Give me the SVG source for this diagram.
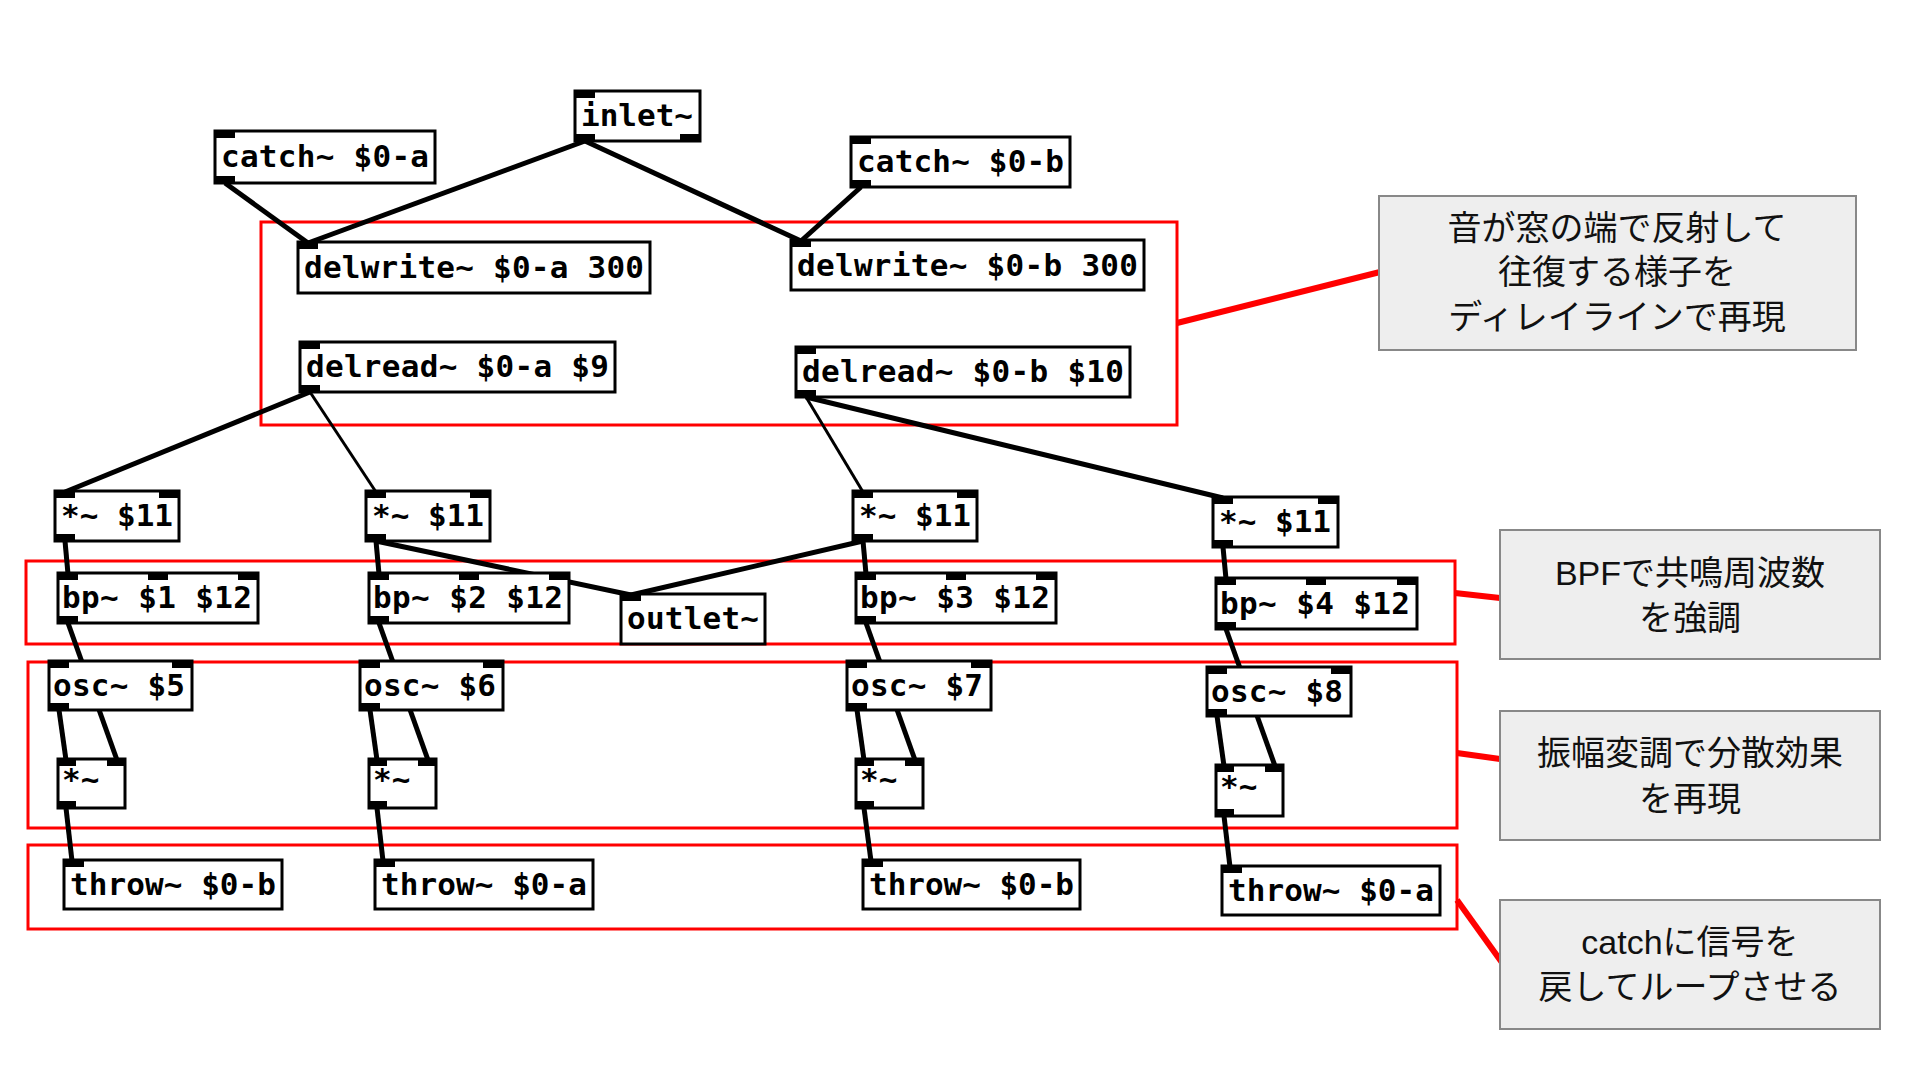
<svg xmlns="http://www.w3.org/2000/svg" width="1920" height="1080" viewBox="0 0 1920 1080">
<style>
.o{fill:#fff;stroke:#000;stroke-width:3}
.t{font-family:"DejaVu Sans Mono","Liberation Mono",monospace;font-weight:bold;font-size:31px;fill:#000}
.p{fill:#000}
.c{stroke:#000;stroke-width:5;fill:none}
.c2{stroke:#000;stroke-width:3;fill:none}
.r{fill:none;stroke:#f00;stroke-width:3}
.rl{stroke:#f00;stroke-width:6}
.cb{fill:#eeeeee;stroke:#888;stroke-width:2}
.ct{font-family:"Liberation Sans","Noto Sans CJK JP",sans-serif;font-size:34px;fill:#111;text-anchor:middle}
</style>
<rect width="1920" height="1080" fill="#fff"/>
<g id="groups">
<rect class="r" x="261" y="222" width="916" height="203"/>
<rect class="r" x="26" y="561" width="1429" height="83"/>
<rect class="r" x="28" y="662" width="1429" height="166"/>
<rect class="r" x="28" y="845" width="1429" height="84"/>
<line class="rl" x1="1177" y1="323" x2="1380" y2="272"/>
<line class="rl" x1="1455" y1="593" x2="1500" y2="598"/>
<line class="rl" x1="1457" y1="753" x2="1500" y2="759"/>
<line class="rl" x1="1457" y1="900" x2="1503" y2="964"/>
</g>
<g id="connectors">
<line class="c" x1="225" y1="183" x2="308" y2="243"/>
<line class="c" x1="585" y1="141" x2="308" y2="243"/>
<line class="c" x1="585" y1="141" x2="801" y2="241"/>
<line class="c" x1="861" y1="187" x2="801" y2="241"/>
<line class="c" x1="310" y1="392" x2="65" y2="492"/>
<line class="c2" x1="310" y1="392" x2="376" y2="492"/>
<line class="c2" x1="806" y1="397" x2="863" y2="492"/>
<line class="c" x1="806" y1="397" x2="1223" y2="498"/>
<line class="c" x1="65" y1="541" x2="68" y2="574"/>
<line class="c" x1="376" y1="541" x2="379" y2="574"/>
<line class="c" x1="376" y1="541" x2="631" y2="595"/>
<line class="c" x1="863" y1="541" x2="631" y2="595"/>
<line class="c" x1="863" y1="541" x2="866" y2="574"/>
<line class="c" x1="1223" y1="547" x2="1226" y2="579"/>
<line class="c" x1="68" y1="623" x2="117" y2="760"/>
<line class="c" x1="379" y1="623" x2="428" y2="760"/>
<line class="c" x1="866" y1="623" x2="915" y2="760"/>
<line class="c" x1="1226" y1="629" x2="1275" y2="766"/>
<line class="c" x1="59" y1="710" x2="66" y2="760"/>
<line class="c" x1="370" y1="710" x2="377" y2="760"/>
<line class="c" x1="857" y1="710" x2="864" y2="760"/>
<line class="c" x1="1217" y1="716" x2="1224" y2="766"/>
<line class="c" x1="66" y1="808" x2="72" y2="861"/>
<line class="c" x1="377" y1="808" x2="383" y2="861"/>
<line class="c" x1="864" y1="808" x2="871" y2="861"/>
<line class="c" x1="1224" y1="816" x2="1230" y2="867"/>
</g>
<g id="inlet"><rect class="o" x="575" y="91" width="125" height="50"/><rect class="p" x="575" y="91" width="20" height="7"/><rect class="p" x="575" y="134" width="20" height="7"/><rect class="p" x="680" y="134" width="20" height="7"/><text class="t" x="581" y="126" textLength="112">inlet~</text></g>
<g id="catchA"><rect class="o" x="215" y="131" width="220" height="52"/><rect class="p" x="215" y="131" width="20" height="7"/><rect class="p" x="215" y="176" width="20" height="7"/><text class="t" x="221" y="167" textLength="208">catch~ $0-a</text></g>
<g id="catchB"><rect class="o" x="851" y="137" width="219" height="50"/><rect class="p" x="851" y="137" width="20" height="7"/><rect class="p" x="851" y="180" width="20" height="7"/><text class="t" x="857" y="172" textLength="207">catch~ $0-b</text></g>
<g id="delwriteA"><rect class="o" x="298" y="242" width="352" height="51"/><rect class="p" x="298" y="242" width="20" height="7"/><text class="t" x="304" y="278" textLength="340">delwrite~ $0-a 300</text></g>
<g id="delwriteB"><rect class="o" x="791" y="240" width="353" height="50"/><rect class="p" x="791" y="240" width="20" height="7"/><text class="t" x="797" y="276" textLength="341">delwrite~ $0-b 300</text></g>
<g id="delreadA"><rect class="o" x="300" y="342" width="315" height="50"/><rect class="p" x="300" y="342" width="20" height="7"/><rect class="p" x="300" y="385" width="20" height="7"/><text class="t" x="306" y="377" textLength="303">delread~ $0-a $9</text></g>
<g id="delreadB"><rect class="o" x="796" y="347" width="334" height="50"/><rect class="p" x="796" y="347" width="20" height="7"/><rect class="p" x="796" y="390" width="20" height="7"/><text class="t" x="802" y="382" textLength="322">delread~ $0-b $10</text></g>
<g id="mul1"><rect class="o" x="55" y="491" width="124" height="50"/><rect class="p" x="55" y="491" width="20" height="7"/><rect class="p" x="159" y="491" width="20" height="7"/><rect class="p" x="55" y="534" width="20" height="7"/><text class="t" x="61" y="526" textLength="112">*~ $11</text></g>
<g id="mul2"><rect class="o" x="366" y="491" width="124" height="50"/><rect class="p" x="366" y="491" width="20" height="7"/><rect class="p" x="470" y="491" width="20" height="7"/><rect class="p" x="366" y="534" width="20" height="7"/><text class="t" x="372" y="526" textLength="112">*~ $11</text></g>
<g id="mul3"><rect class="o" x="853" y="491" width="124" height="50"/><rect class="p" x="853" y="491" width="20" height="7"/><rect class="p" x="957" y="491" width="20" height="7"/><rect class="p" x="853" y="534" width="20" height="7"/><text class="t" x="859" y="526" textLength="112">*~ $11</text></g>
<g id="mul4"><rect class="o" x="1213" y="497" width="125" height="50"/><rect class="p" x="1213" y="497" width="20" height="7"/><rect class="p" x="1318" y="497" width="20" height="7"/><rect class="p" x="1213" y="540" width="20" height="7"/><text class="t" x="1219" y="532" textLength="112">*~ $11</text></g>
<g id="bp1"><rect class="o" x="58" y="573" width="200" height="50"/><rect class="p" x="58" y="573" width="20" height="7"/><rect class="p" x="148" y="573" width="20" height="7"/><rect class="p" x="238" y="573" width="20" height="7"/><rect class="p" x="58" y="616" width="20" height="7"/><text class="t" x="62" y="608" textLength="190">bp~ $1 $12</text></g>
<g id="bp2"><rect class="o" x="369" y="573" width="200" height="50"/><rect class="p" x="369" y="573" width="20" height="7"/><rect class="p" x="459" y="573" width="20" height="7"/><rect class="p" x="549" y="573" width="20" height="7"/><rect class="p" x="369" y="616" width="20" height="7"/><text class="t" x="373" y="608" textLength="190">bp~ $2 $12</text></g>
<g id="outlet"><rect class="o" x="621" y="594" width="144" height="50"/><rect class="p" x="621" y="594" width="20" height="7"/><text class="t" x="627" y="629" textLength="132">outlet~</text></g>
<g id="bp3"><rect class="o" x="856" y="573" width="200" height="50"/><rect class="p" x="856" y="573" width="20" height="7"/><rect class="p" x="946" y="573" width="20" height="7"/><rect class="p" x="1036" y="573" width="20" height="7"/><rect class="p" x="856" y="616" width="20" height="7"/><text class="t" x="860" y="608" textLength="190">bp~ $3 $12</text></g>
<g id="bp4"><rect class="o" x="1216" y="578" width="201" height="51"/><rect class="p" x="1216" y="578" width="20" height="7"/><rect class="p" x="1306" y="578" width="20" height="7"/><rect class="p" x="1397" y="578" width="20" height="7"/><rect class="p" x="1216" y="622" width="20" height="7"/><text class="t" x="1220" y="614" textLength="190">bp~ $4 $12</text></g>
<g id="osc5"><rect class="o" x="49" y="661" width="143" height="49"/><rect class="p" x="49" y="661" width="20" height="7"/><rect class="p" x="172" y="661" width="20" height="7"/><rect class="p" x="49" y="703" width="20" height="7"/><text class="t" x="53" y="696" textLength="132">osc~ $5</text></g>
<g id="osc6"><rect class="o" x="360" y="661" width="143" height="49"/><rect class="p" x="360" y="661" width="20" height="7"/><rect class="p" x="483" y="661" width="20" height="7"/><rect class="p" x="360" y="703" width="20" height="7"/><text class="t" x="364" y="696" textLength="132">osc~ $6</text></g>
<g id="osc7"><rect class="o" x="847" y="661" width="144" height="49"/><rect class="p" x="847" y="661" width="20" height="7"/><rect class="p" x="971" y="661" width="20" height="7"/><rect class="p" x="847" y="703" width="20" height="7"/><text class="t" x="851" y="696" textLength="132">osc~ $7</text></g>
<g id="osc8"><rect class="o" x="1207" y="667" width="144" height="49"/><rect class="p" x="1207" y="667" width="20" height="7"/><rect class="p" x="1331" y="667" width="20" height="7"/><rect class="p" x="1207" y="709" width="20" height="7"/><text class="t" x="1211" y="702" textLength="132">osc~ $8</text></g>
<g id="m1"><rect class="o" x="58" y="759" width="67" height="49"/><rect class="p" x="58" y="759" width="18" height="7"/><rect class="p" x="107" y="759" width="18" height="7"/><rect class="p" x="58" y="801" width="18" height="7"/><text class="t" x="62" y="790" font-size="24">*~</text></g>
<g id="m2"><rect class="o" x="369" y="759" width="67" height="49"/><rect class="p" x="369" y="759" width="18" height="7"/><rect class="p" x="418" y="759" width="18" height="7"/><rect class="p" x="369" y="801" width="18" height="7"/><text class="t" x="373" y="790" font-size="24">*~</text></g>
<g id="m3"><rect class="o" x="856" y="759" width="67" height="49"/><rect class="p" x="856" y="759" width="18" height="7"/><rect class="p" x="905" y="759" width="18" height="7"/><rect class="p" x="856" y="801" width="18" height="7"/><text class="t" x="860" y="790" font-size="24">*~</text></g>
<g id="m4"><rect class="o" x="1216" y="765" width="67" height="51"/><rect class="p" x="1216" y="765" width="18" height="7"/><rect class="p" x="1265" y="765" width="18" height="7"/><rect class="p" x="1216" y="809" width="18" height="7"/><text class="t" x="1220" y="797" font-size="24">*~</text></g>
<g id="throw1"><rect class="o" x="64" y="860" width="218" height="49"/><rect class="p" x="64" y="860" width="20" height="7"/><text class="t" x="70" y="895" textLength="206">throw~ $0-b</text></g>
<g id="throw2"><rect class="o" x="375" y="860" width="218" height="49"/><rect class="p" x="375" y="860" width="20" height="7"/><text class="t" x="381" y="895" textLength="206">throw~ $0-a</text></g>
<g id="throw3"><rect class="o" x="863" y="860" width="217" height="49"/><rect class="p" x="863" y="860" width="20" height="7"/><text class="t" x="869" y="895" textLength="205">throw~ $0-b</text></g>
<g id="throw4"><rect class="o" x="1222" y="866" width="218" height="49"/><rect class="p" x="1222" y="866" width="20" height="7"/><text class="t" x="1228" y="901" textLength="206">throw~ $0-a</text></g>
<g id="note1"><rect class="cb" x="1379" y="196" width="477" height="154"/><text class="ct" x="1617" y="240">音が窓の端で反射して</text><text class="ct" x="1617" y="284">往復する様子を</text><text class="ct" x="1617" y="329">ディレイラインで再現</text></g>
<g id="note2"><rect class="cb" x="1500" y="530" width="380" height="129"/><text class="ct" x="1690" y="585">BPFで共鳴周波数</text><text class="ct" x="1690" y="630">を強調</text></g>
<g id="note3"><rect class="cb" x="1500" y="711" width="380" height="129"/><text class="ct" x="1690" y="765">振幅変調で分散効果</text><text class="ct" x="1690" y="811">を再現</text></g>
<g id="note4"><rect class="cb" x="1500" y="900" width="380" height="129"/><text class="ct" x="1690" y="954">catchに信号を</text><text class="ct" x="1690" y="999">戻してループさせる</text></g>
</svg>
